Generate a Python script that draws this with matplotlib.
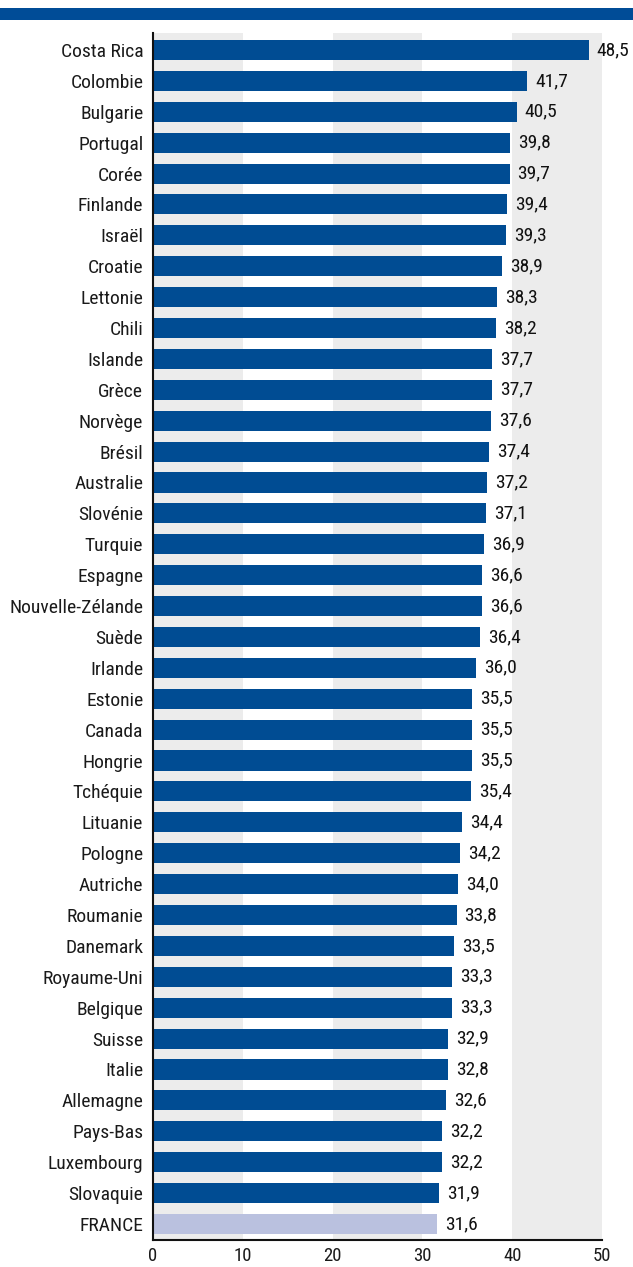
import matplotlib
matplotlib.use("Agg")
import matplotlib.pyplot as plt
from matplotlib import font_manager

countries = ["Costa Rica", "Colombie", "Bulgarie", "Portugal", "Corée", "Finlande", "Israël",
             "Croatie", "Lettonie", "Chili", "Islande", "Grèce", "Norvège", "Brésil",
             "Australie", "Slovénie", "Turquie", "Espagne", "Nouvelle-Zélande", "Suède",
             "Irlande", "Estonie", "Canada", "Hongrie", "Tchéquie", "Lituanie", "Pologne",
             "Autriche", "Roumanie", "Danemark", "Royaume-Uni", "Belgique", "Suisse",
             "Italie", "Allemagne", "Pays-Bas", "Luxembourg", "Slovaquie", "FRANCE"]
values = [48.5, 41.7, 40.5, 39.8, 39.7, 39.4, 39.3, 38.9, 38.3, 38.2, 37.7, 37.7, 37.6,
          37.4, 37.2, 37.1, 36.9, 36.6, 36.6, 36.4, 36.0, 35.5, 35.5, 35.5, 35.4, 34.4,
          34.2, 34.0, 33.8, 33.5, 33.3, 33.3, 32.9, 32.8, 32.6, 32.2, 32.2, 31.9, 31.6]
xticks = [0, 10, 20, 30, 40, 50]
highlight = "FRANCE"

names = {f.name for f in font_manager.fontManager.ttflist}
fam = "Roboto Condensed" if "Roboto Condensed" in names else "Roboto"
plt.rcParams["font.family"] = [fam, "DejaVu Sans"]
size = 14

W, H = 633, 1267
fig = plt.figure(figsize=(W / 100, H / 100), dpi=100)
ax = fig.add_axes([153 / W, 1 - 1240 / H, (602 - 153) / W, (1240 - 33) / H])

# top banner
fig.add_artist(plt.Rectangle((0, 1 - 20 / H), 1, 12 / H, transform=fig.transFigure,
                             color="#004C97", lw=0))

# alternating background bands
for i in range(0, len(xticks) - 1, 2):
    ax.axvspan(xticks[i], xticks[i + 1], color="#ECECEC", lw=0, zorder=0)

ypos = list(range(len(countries)))
colors = ["#BAC1DF" if c == highlight else "#004C93" for c in countries]
ax.barh(ypos, values, height=0.65, color=colors, zorder=2)
for y, v in zip(ypos, values):
    ax.text(v + 0.9, y, f"{v:.1f}".replace(".", ","), va="center", ha="left",
            fontsize=size, color="#111111", clip_on=False)

ax.set_ylim(len(countries) - 0.48, -0.55)
ax.set_xlim(0, 50)
ax.set_yticks(ypos)
ax.set_yticklabels(countries, fontsize=size, color="#1A1A1A")
ax.set_xticks(xticks)
ax.set_xticklabels([str(t) for t in xticks], fontsize=13.5, color="#1A1A1A")
ax.tick_params(axis="both", length=0)
ax.tick_params(axis="y", pad=7)
ax.tick_params(axis="x", pad=5)
for s in ["top", "right"]:
    ax.spines[s].set_visible(False)
for s in ["left", "bottom"]:
    ax.spines[s].set_linewidth(1.5)
    ax.spines[s].set_color("#111111")
    ax.spines[s].set_zorder(3)

fig.savefig("out.png", dpi=100)
